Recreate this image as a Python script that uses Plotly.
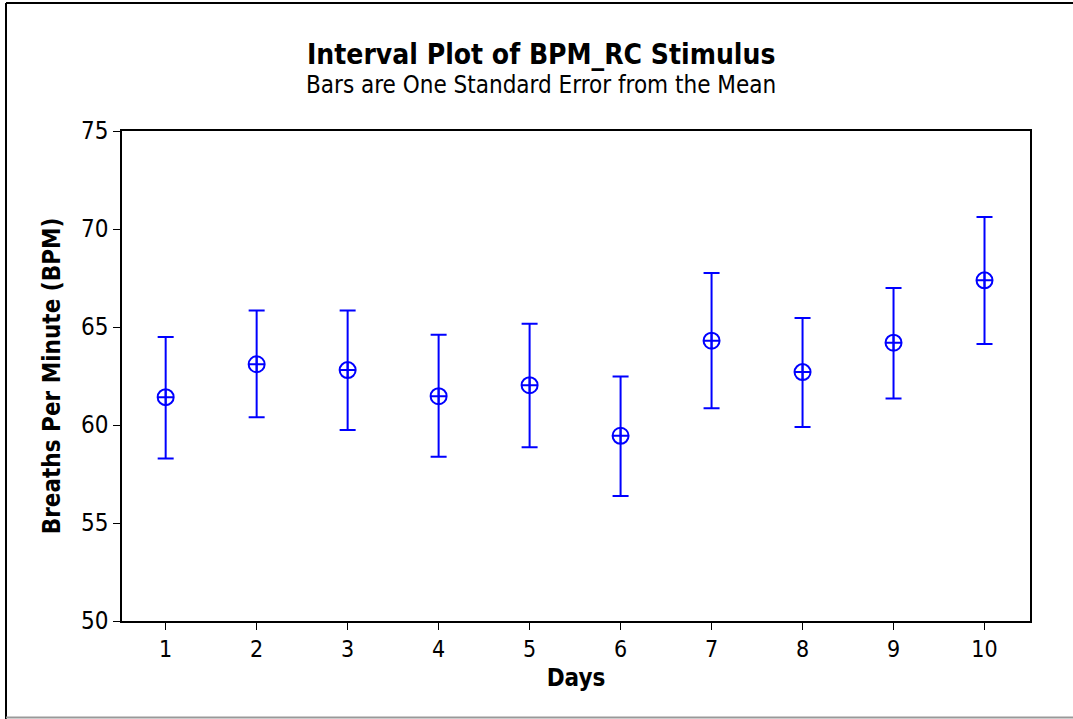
import plotly.graph_objects as go

# Interval plot data: mean breaths per minute per day with one standard error
days = [1, 2, 3, 4, 5, 6, 7, 8, 9, 10]
mean_bpm = [61.42, 63.10, 62.80, 61.47, 62.03, 59.45, 64.30, 62.70, 64.20, 67.38]
upper_bpm = [64.49, 65.84, 65.84, 64.61, 65.17, 62.47, 67.75, 65.46, 66.99, 70.61]
lower_bpm = [58.29, 60.39, 59.74, 58.38, 58.87, 56.38, 60.85, 59.90, 61.35, 64.13]
y_ticks = [50, 55, 60, 65, 70, 75]

err_plus = [u - m for u, m in zip(upper_bpm, mean_bpm)]
err_minus = [m - l for m, l in zip(mean_bpm, lower_bpm)]

BLUE = "#0000FF"
FONT = "DejaVu Sans Condensed, DejaVu Sans, sans-serif"

fig = go.Figure()
fig.add_trace(go.Scatter(
    x=days, y=mean_bpm, mode="markers",
    marker=dict(symbol="circle-cross-open", size=16, color=BLUE,
                line=dict(width=2, color=BLUE)),
    error_y=dict(type="data", symmetric=False, array=err_plus,
                 arrayminus=err_minus, color=BLUE, thickness=2, width=8),
    showlegend=False, hoverinfo="x+y",
))

W, H = 1073, 719
L, R, T, B = 122, 43, 131, 98
pw, ph = W - L - R, H - T - B

def px(x):
    return (x - L) / pw

def py(y):
    return (H - B - y) / ph

fig.update_layout(
    width=W, height=H,
    margin=dict(l=L, r=R, t=T, b=B),
    paper_bgcolor="white", plot_bgcolor="white",
    font=dict(family=FONT, color="black", size=23),
    xaxis=dict(
        range=[0.52, 10.5], tickvals=days, ticktext=[str(d) for d in days],
        showgrid=False, zeroline=False, showline=True, linecolor="black",
        linewidth=1.5, mirror=True, ticks="outside", ticklen=7,
        tickcolor="black", tickfont=dict(size=23, family=FONT),
        title=dict(text="<b>Days</b>", font=dict(size=24, family=FONT), standoff=8),
    ),
    yaxis=dict(
        range=[50, 75], tickvals=y_ticks, ticktext=[str(v) for v in y_ticks],
        showgrid=False, zeroline=False, showline=True, linecolor="black",
        linewidth=1.5, mirror=True, ticks="outside", ticklen=7,
        tickcolor="black", tickfont=dict(size=24, family=FONT),
        title=dict(text="<b>Breaths Per Minute (BPM)</b>",
                   font=dict(size=24, family=FONT), standoff=14),
    ),
    shapes=[
        dict(type="line", xref="paper", yref="paper", x0=px(6), x1=px(1073),
             y0=py(3), y1=py(3), line=dict(color="black", width=2)),
        dict(type="line", xref="paper", yref="paper", x0=px(6), x1=px(6),
             y0=py(3), y1=py(719), line=dict(color="black", width=2)),
        dict(type="line", xref="paper", yref="paper", x0=px(6), x1=px(1073),
             y0=py(717.5), y1=py(717.5), line=dict(color="#999999", width=2)),
    ],
    annotations=[
        dict(text="<b>Interval Plot of BPM_RC Stimulus</b>", xref="paper", yref="paper",
             x=px(541), y=py(55), xanchor="center", yanchor="middle",
             showarrow=False, font=dict(size=28, family=FONT)),
        dict(text="Bars are One Standard Error from the Mean", xref="paper", yref="paper",
             x=px(541), y=py(85), xanchor="center", yanchor="middle",
             showarrow=False, font=dict(size=24, family=FONT)),
    ],
)

fig.write_html("out.html")
